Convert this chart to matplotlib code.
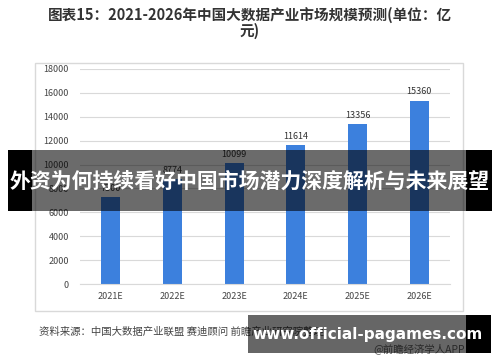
import matplotlib
matplotlib.use("Agg")
import matplotlib.pyplot as plt
from matplotlib.patches import Rectangle

plt.rcParams['font.family'] = ['Noto Sans CJK SC', 'DejaVu Sans']

# data (2021E is hidden under the banner, estimated)
years = ['2021E', '2022E', '2023E', '2024E', '2025E', '2026E']
market_size = [7300, 8774, 10099, 11614, 13356, 15360]
y_ticks = [0, 2000, 4000, 6000, 8000, 10000, 12000, 14000, 16000, 18000]

title = "图表15：2021-2026年中国大数据产业市场规模预测(单位：亿\n元)"
source = "资料来源：中国大数据产业联盟 赛迪顾问 前瞻产业研究院整理"
credit = "@前瞻经济学人APP"
banner = "外资为何持续看好中国市场潜力深度解析与未来展望"
site = "www.official-pagames.com"

W, H = 500, 362
fig = plt.figure(figsize=(W / 100, H / 100), dpi=100)


def fx(x):
    return x / W


def fy(y):
    return 1 - y / H


def box(x0, y0, x1, y1, **kw):
    # rectangle in pixel coords of the figure
    r = Rectangle((fx(x0), fy(y1)), fx(x1) - fx(x0), fy(y0) - fy(y1),
                  transform=fig.transFigure, **kw)
    fig.add_artist(r)
    return r


# chart frame
box(35, 63, 463, 311, facecolor='none', edgecolor='#d9d9d9', linewidth=1, zorder=0)

ax = fig.add_axes([fx(80), fy(284), fx(450) - fx(80), fy(69) - fy(284)])
x = range(len(years))
ax.bar(x, market_size, width=0.31, color='#3c80dd', zorder=2)
for i, v in zip(x, market_size):
    ax.text(i, v + 350, str(v), ha='center', va='bottom', fontsize=6.5, color='#333333')

ax.set_xlim(-0.5, 5.5)
ax.set_ylim(0, 18000)
ax.set_yticks(y_ticks)
ax.set_yticklabels([str(t) for t in y_ticks], fontsize=6.5, color='#444444')
ax.set_xticks(list(x))
ax.set_xticklabels(years, fontsize=6.5, color='#444444')
ax.tick_params(length=0, pad=8)
ax.tick_params(axis='x', pad=6)
ax.grid(axis='y', color='#d9d9d9', linewidth=0.8, zorder=0)
for s in ['top', 'right', 'left']:
    ax.spines[s].set_visible(False)
ax.spines['bottom'].set_color('#d9d9d9')

fig.text(0.5, fy(23), title, ha='center', va='center', fontsize=10.5,
         fontweight='bold', color='#333333', linespacing=1.0)
fig.text(fx(39), fy(332), source, ha='left', va='center', fontsize=7.5, color='#444444')
fig.text(fx(465), fy(349), credit, ha='right', va='center', fontsize=7.5, color='#666666')

# overlay banner across the middle
box(8, 150, 32, 211, facecolor='black', edgecolor='none', zorder=10)
box(32, 150, 466, 211, facecolor='black', alpha=0.58, edgecolor='none', zorder=10)
box(466, 150, 492, 211, facecolor='black', edgecolor='none', zorder=10)
fig.text(0.5, fy(181), banner, ha='center', va='center', fontsize=15,
         fontweight='bold', color='white', zorder=11)

# bottom site band
box(248, 315, 466, 353, facecolor='black', alpha=0.6, edgecolor='none', zorder=10)
box(466, 315, 491, 353, facecolor='black', edgecolor='none', zorder=10)
fig.text(fx(368), fy(335), site, ha='center', va='center', fontsize=11,
         fontweight='bold', color='white', family=['DejaVu Sans'], zorder=11)

plt.savefig("out.png", dpi=100)
plt.close()
